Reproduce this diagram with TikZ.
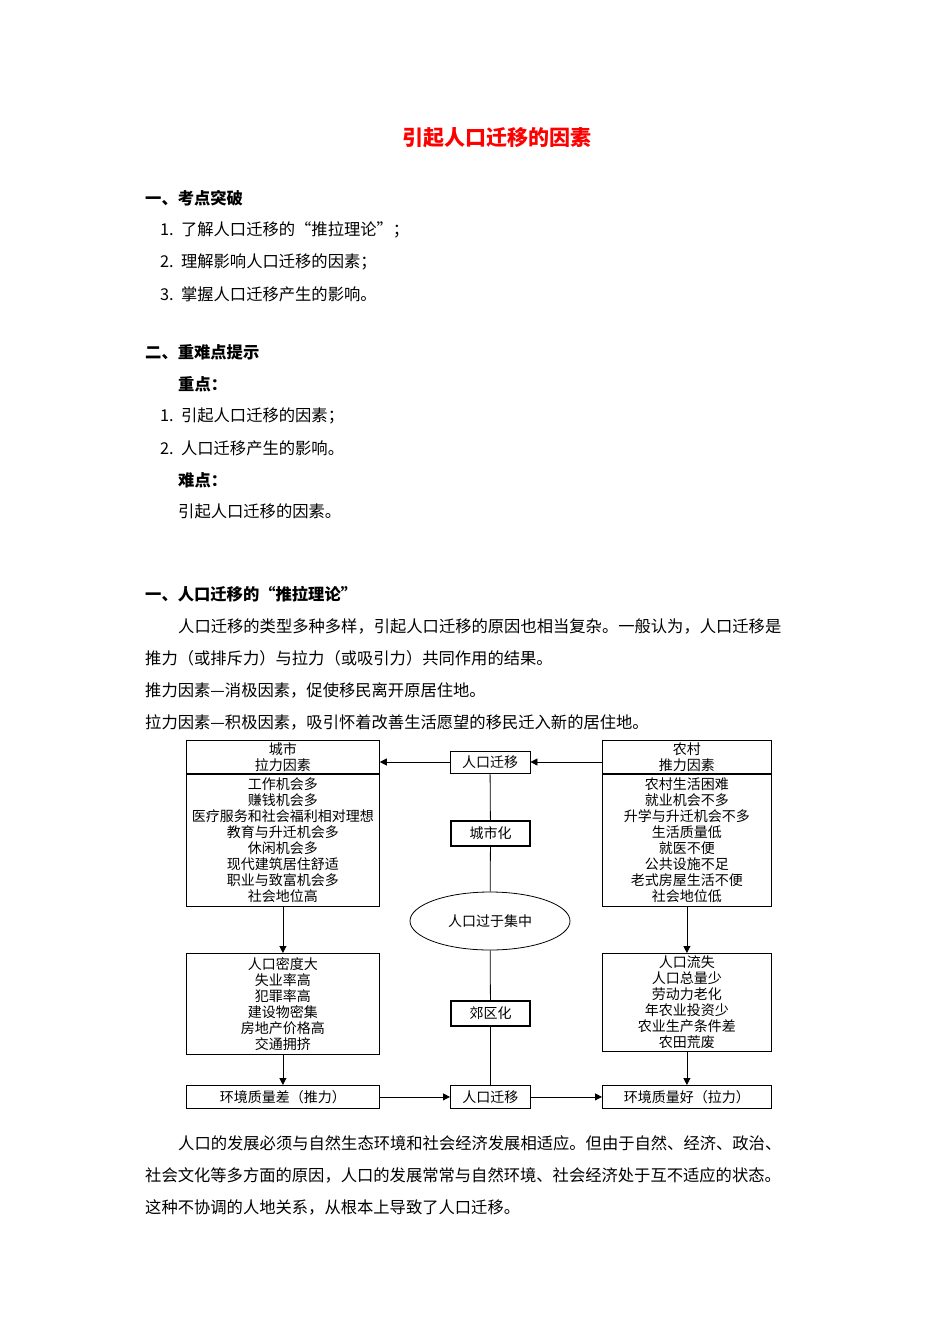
\documentclass[tikz,border=0pt]{standalone}
\usepackage{fontspec}
\setmainfont{Noto Sans CJK SC}
\usetikzlibrary{shapes.geometric,arrows.meta}
\begin{document}
\begin{tikzpicture}[x=1pt,y=-1pt,
  txt/.style={anchor=west,inner sep=0pt,font=\fontsize{16.3}{16}\selectfont},
  bt/.style={txt,font=\fontsize{16.3}{16}\selectfont\bfseries},
  bx/.style={draw,line width=0.8pt,inner sep=0pt,font=\fontsize{14}{16}\selectfont,align=center},
  tbx/.style={bx,line width=2pt},
  arr/.style={-{Triangle[length=7pt,width=7pt]},line width=0.8pt},
  ln/.style={line width=0.8pt}]
\useasboundingbox (0,0) rectangle (950,1344);
\node[font=\fontsize{21}{21}\selectfont\bfseries,text=red] (title) at (497,138) {引起人口迁移的因素};
\node[bt] (h1) at (145,198) {一、考点突破};
\node[txt] (a1) at (160,230) {1.\ \ 了解人口迁移的“推拉理论”；};
\node[txt] (a2) at (160,262) {2.\ \ 理解影响人口迁移的因素；};
\node[txt] (a3) at (160,294) {3.\ \ 掌握人口迁移产生的影响。};
\node[bt] (h2) at (145,352) {二、重难点提示};
\node[bt] (zd) at (178,384) {重点：};
\node[txt] (b1) at (160,416) {1.\ \ 引起人口迁移的因素；};
\node[txt] (b2) at (160,448) {2.\ \ 人口迁移产生的影响。};
\node[bt] (nd) at (178,480) {难点：};
\node[txt] (c1) at (178,511) {引起人口迁移的因素。};
\node[bt] (h3) at (145,594) {一、人口迁移的“推拉理论”};
\node[txt] (p1) at (178,626) {人口迁移的类型多种多样，引起人口迁移的原因也相当复杂。一般认为，人口迁移是};
\node[txt] (p2) at (145,658) {推力（或排斥力）与拉力（或吸引力）共同作用的结果。};
\node[txt] (p3) at (145,690) {推力因素—消极因素，促使移民离开原居住地。};
\node[txt] (p4) at (145,722) {拉力因素—积极因素，吸引怀着改善生活愿望的移民迁入新的居住地。};
% diagram
\node[bx,minimum width=193pt,minimum height=34pt,anchor=north west] (LH) at (186,740) {城市\\拉力因素};
\node[bx,minimum width=193pt,minimum height=133pt,anchor=north west] (LB) at (186,773) {工作机会多\\赚钱机会多\\医疗服务和社会福利相对理想\\教育与升迁机会多\\休闲机会多\\现代建筑居住舒适\\职业与致富机会多\\社会地位高};
\node[bx,minimum width=169pt,minimum height=34pt,anchor=north west] (RH) at (602,740) {农村\\推力因素};
\node[bx,minimum width=169pt,minimum height=133pt,anchor=north west] (RB) at (602,773) {农村生活困难\\就业机会不多\\升学与升迁机会不多\\生活质量低\\就医不便\\公共设施不足\\老式房屋生活不便\\社会地位低};
\node[bx,minimum width=80pt,minimum height=22pt] (MT) at (490,762) {人口迁移};
\node[tbx,minimum width=79pt,minimum height=25pt] (CS) at (490.5,833.5) {城市化};
\node[draw,ln,ellipse,minimum width=160pt,minimum height=58pt,font=\fontsize{14}{15}\selectfont] (EL) at (490,921) {人口过于集中};
\node[tbx,minimum width=79pt,minimum height=25pt] (JQ) at (490.5,1013.5) {郊区化};
\node[bx,minimum width=193pt,minimum height=101pt,anchor=north west] (L2) at (186,953) {人口密度大\\失业率高\\犯罪率高\\建设物密集\\房地产价格高\\交通拥挤};
\node[bx,minimum width=169pt,minimum height=98pt,anchor=north west] (R2) at (602,953) {人口流失\\人口总量少\\劳动力老化\\年农业投资少\\农业生产条件差\\农田荒废};
\node[bx,minimum width=193pt,minimum height=23pt,anchor=north west] (L3) at (186,1085) {环境质量差（推力）};
\node[bx,minimum width=80pt,minimum height=23pt,anchor=north west] (M3) at (450,1085) {人口迁移};
\node[bx,minimum width=169pt,minimum height=23pt,anchor=north west] (R3) at (602,1085) {环境质量好（拉力）};
\draw[arr] (RH.west |- MT.east) -- (MT.east);
\draw[arr] (MT.west) -- (LH.east |- MT.west);
\draw[ln] (MT) -- (CS) -- (EL) -- (JQ) -- (M3);
\draw[arr] (LB.south) -- (L2.north);
\draw[arr] (L2.south) -- (L3.north);
\draw[arr] (RB.south) -- (R2.north);
\draw[arr] (R2.south) -- (R3.north);
\draw[arr] (L3.east) -- (M3.west);
\draw[arr] (M3.east) -- (R3.west);
\node[txt] (q1) at (178,1143) {人口的发展必须与自然生态环境和社会经济发展相适应。但由于自然、经济、政治、};
\node[txt] (q2) at (145,1175) {社会文化等多方面的原因，人口的发展常常与自然环境、社会经济处于互不适应的状态。};
\node[txt] (q3) at (145,1207) {这种不协调的人地关系，从根本上导致了人口迁移。};
\end{tikzpicture}
\end{document}
